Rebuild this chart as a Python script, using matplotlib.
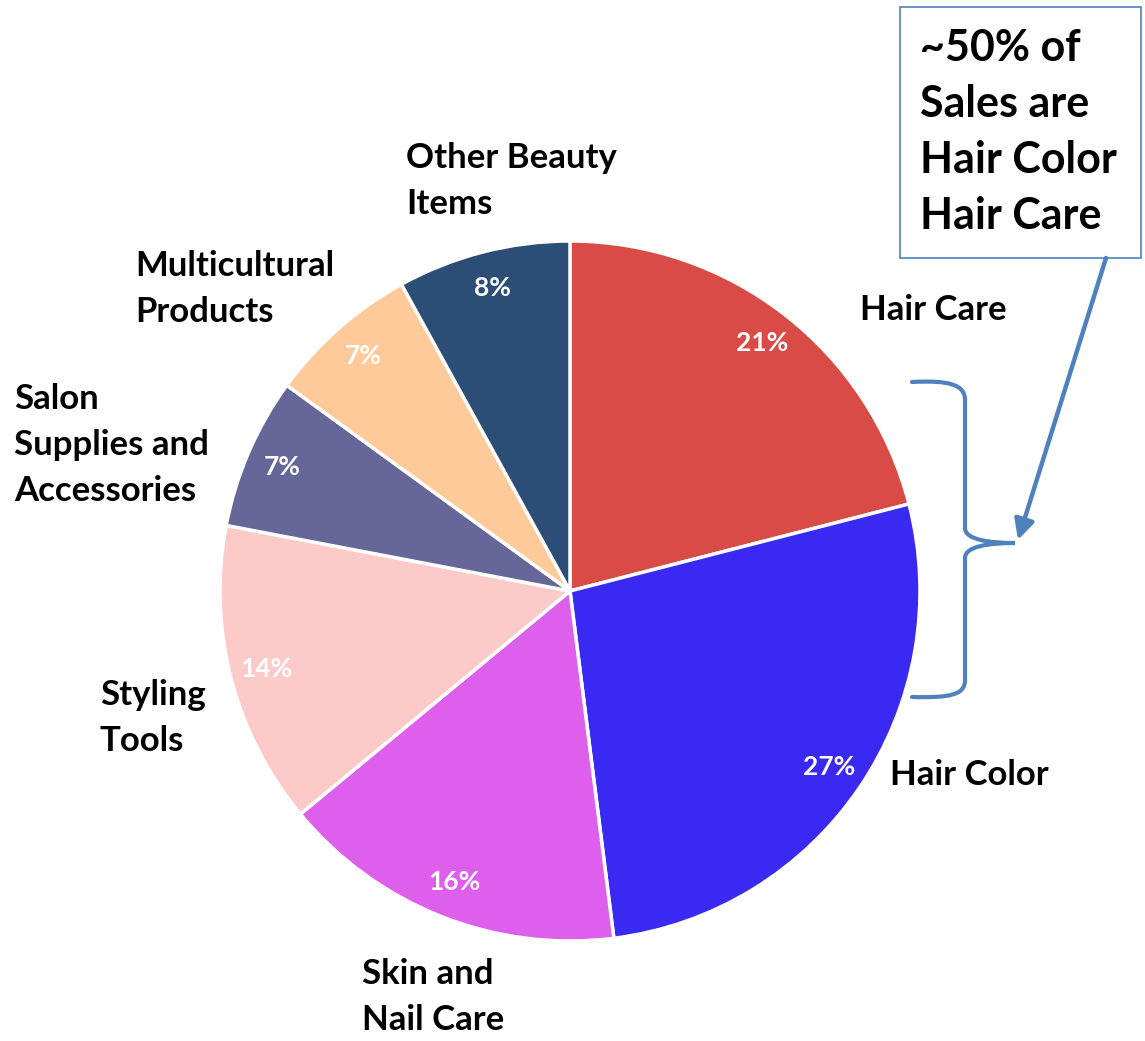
import matplotlib
matplotlib.use("Agg")
import matplotlib.pyplot as plt
from matplotlib.path import Path
from matplotlib.patches import PathPatch, FancyArrowPatch, Rectangle

plt.rcParams["font.family"] = ["Lato", "DejaVu Sans"]
plt.rcParams["font.weight"] = "bold"

# Sales share by category, clockwise from 12 o'clock
categorias = ["Hair Care", "Hair Color", "Skin and\nNail Care", "Styling\nTools",
              "Salon\nSupplies and\nAccessories", "Multicultural\nProducts",
              "Other Beauty\nItems"]
valores = [21, 27, 16, 14, 7, 7, 8]
cores = ["#D94B47", "#3A28F3", "#DD5FEB", "#FDCACA", "#666699", "#FFCA99", "#2C4D75"]
nota = "~50% of\nSales are\nHair Color\nHair Care"

W, H = 1145, 1041
AZUL = "#4F81BD"


def y(py):
    # work in pixel-like coordinates measured from the top
    return H - py


fig = plt.figure(figsize=(W / 100, H / 100), dpi=100)
ax = fig.add_axes([0, 0, 1, 1])

cx, cy, r = 570, y(591), 350
wedges, _, pcts = ax.pie(
    valores, colors=cores, startangle=90, counterclock=False,
    center=(cx, cy), radius=r, autopct="%d%%", pctdistance=0.895,
    wedgeprops=dict(edgecolor="white", linewidth=2.5),
    textprops=dict(color="white", fontsize=19, fontweight="bold"),
    frame=True,
)
ax.set_xlim(0, W)
ax.set_ylim(0, H)
ax.set_aspect("equal")
ax.axis("off")

# category labels, left aligned beside their slices
pos_rotulos = [(860, 310), (890, 775), (362, 997), (100, 718),
               (14, 445), (135, 289), (406, 181)]
for texto, (px, py) in zip(categorias, pos_rotulos):
    ax.text(px, y(py), texto, fontsize=25, fontweight="bold",
            ha="left", va="center", linespacing=1.54, color="black")

# callout box
ax.add_patch(Rectangle((900, y(258)), 241, 251, facecolor="white",
                       edgecolor=AZUL, linewidth=1.2))
ax.text(920, y(132), nota, fontsize=31, fontweight="bold", ha="left",
        va="center", linespacing=1.48, color="black")

# curly brace spanning Hair Care + Hair Color
verts = [
    (912, y(382)), (950, y(380)), (965, y(385)), (965, y(400)),
    (965, y(528)),
    (965, y(540)), (990, y(543)), (1015, y(543)),
    (990, y(543)), (965, y(546)), (965, y(558)),
    (965, y(680)),
    (965, y(695)), (950, y(698)), (912, y(697)),
]
codes = [Path.MOVETO, Path.CURVE4, Path.CURVE4, Path.CURVE4,
         Path.LINETO,
         Path.CURVE4, Path.CURVE4, Path.CURVE4,
         Path.CURVE4, Path.CURVE4, Path.CURVE4,
         Path.LINETO,
         Path.CURVE4, Path.CURVE4, Path.CURVE4]
ax.add_patch(PathPatch(Path(verts, codes), facecolor="none",
                       edgecolor=AZUL, linewidth=3, capstyle="round"))

ax.add_patch(FancyArrowPatch((1106, y(258)), (1018, y(540)),
                             arrowstyle="-|>,head_length=12,head_width=6",
                             color=AZUL, linewidth=3.2, shrinkA=0, shrinkB=0))

fig.savefig("out.png", dpi=100)
